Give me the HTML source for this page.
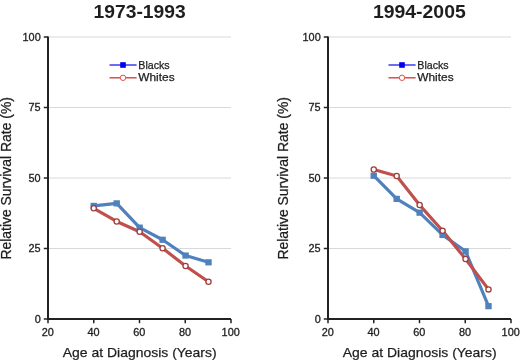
<!DOCTYPE html><html><head><meta charset="utf-8"><style>html,body{margin:0;padding:0;background:#fff;width:520px;height:360px;overflow:hidden}svg{display:block;will-change:transform}text{font-family:"Liberation Sans",sans-serif;fill:#1e1e1e}</style></head><body>
<svg width="520" height="360" viewBox="0 0 520 360">
<line x1="49.00" y1="248.50" x2="231.00" y2="248.50" stroke="#d9d9d9" stroke-width="1"/>
<line x1="49.00" y1="178.00" x2="231.00" y2="178.00" stroke="#d9d9d9" stroke-width="1"/>
<line x1="49.00" y1="107.50" x2="231.00" y2="107.50" stroke="#d9d9d9" stroke-width="1"/>
<line x1="49.00" y1="37.00" x2="231.00" y2="37.00" stroke="#d9d9d9" stroke-width="1"/>
<line x1="48.00" y1="36.50" x2="48.00" y2="320.00" stroke="#222" stroke-width="2"/>
<line x1="47.00" y1="319.00" x2="231.00" y2="319.00" stroke="#222" stroke-width="2"/>
<line x1="43.80" y1="319.00" x2="48.00" y2="319.00" stroke="#222" stroke-width="1.5"/>
<text x="40.70" y="322.85" font-size="10.9" text-anchor="end" stroke="#1e1e1e" stroke-width="0.3">0</text>
<line x1="43.80" y1="248.50" x2="48.00" y2="248.50" stroke="#222" stroke-width="1.5"/>
<text x="40.70" y="252.35" font-size="10.9" text-anchor="end" stroke="#1e1e1e" stroke-width="0.3">25</text>
<line x1="43.80" y1="178.00" x2="48.00" y2="178.00" stroke="#222" stroke-width="1.5"/>
<text x="40.70" y="181.85" font-size="10.9" text-anchor="end" stroke="#1e1e1e" stroke-width="0.3">50</text>
<line x1="43.80" y1="107.50" x2="48.00" y2="107.50" stroke="#222" stroke-width="1.5"/>
<text x="40.70" y="111.35" font-size="10.9" text-anchor="end" stroke="#1e1e1e" stroke-width="0.3">75</text>
<line x1="43.80" y1="37.00" x2="48.00" y2="37.00" stroke="#222" stroke-width="1.5"/>
<text x="40.70" y="40.85" font-size="10.9" text-anchor="end" stroke="#1e1e1e" stroke-width="0.3">100</text>
<line x1="48.00" y1="319.00" x2="48.00" y2="323.20" stroke="#222" stroke-width="1.5"/>
<text x="47.70" y="335.80" font-size="10.9" text-anchor="middle" stroke="#1e1e1e" stroke-width="0.3">20</text>
<line x1="93.75" y1="319.00" x2="93.75" y2="323.20" stroke="#222" stroke-width="1.5"/>
<text x="93.45" y="335.80" font-size="10.9" text-anchor="middle" stroke="#1e1e1e" stroke-width="0.3">40</text>
<line x1="139.50" y1="319.00" x2="139.50" y2="323.20" stroke="#222" stroke-width="1.5"/>
<text x="139.20" y="335.80" font-size="10.9" text-anchor="middle" stroke="#1e1e1e" stroke-width="0.3">60</text>
<line x1="185.25" y1="319.00" x2="185.25" y2="323.20" stroke="#222" stroke-width="1.5"/>
<text x="184.95" y="335.80" font-size="10.9" text-anchor="middle" stroke="#1e1e1e" stroke-width="0.3">80</text>
<line x1="231.00" y1="319.00" x2="231.00" y2="323.20" stroke="#222" stroke-width="1.5"/>
<text x="230.70" y="335.80" font-size="10.9" text-anchor="middle" stroke="#1e1e1e" stroke-width="0.3">100</text>
<text x="93.60" y="17.9" font-size="18.6" font-weight="bold" textLength="92.10" lengthAdjust="spacingAndGlyphs">1973-1993</text>
<text x="62.80" y="356.6" font-size="13.6" textLength="153.8" lengthAdjust="spacingAndGlyphs" stroke="#1e1e1e" stroke-width="0.25">Age at Diagnosis (Years)</text>
<text transform="translate(10.60,259.6) rotate(-90)" font-size="13.8" textLength="162.5" lengthAdjust="spacingAndGlyphs" stroke="#1e1e1e" stroke-width="0.25">Relative Survival Rate (%)</text>
<polyline points="93.75,205.92 116.70,203.38 139.65,227.63 162.60,239.76 185.55,255.55 208.50,262.32" fill="none" stroke="#4f81bd" stroke-width="3.2" stroke-linejoin="round"/>
<polyline points="93.75,208.31 116.70,221.43 139.65,231.72 162.60,248.22 185.55,265.98 208.50,281.78" fill="none" stroke="#c0504d" stroke-width="3.2" stroke-linejoin="round"/>
<rect x="90.55" y="202.82" width="6.4" height="6.2" fill="#4f81bd"/>
<rect x="113.50" y="200.28" width="6.4" height="6.2" fill="#4f81bd"/>
<rect x="136.45" y="224.53" width="6.4" height="6.2" fill="#4f81bd"/>
<rect x="159.40" y="236.66" width="6.4" height="6.2" fill="#4f81bd"/>
<rect x="182.35" y="252.45" width="6.4" height="6.2" fill="#4f81bd"/>
<rect x="205.30" y="259.22" width="6.4" height="6.2" fill="#4f81bd"/>
<circle cx="93.75" cy="208.31" r="2.6" fill="#fff" stroke="#a03c3a" stroke-width="1.3"/>
<circle cx="116.70" cy="221.43" r="2.6" fill="#fff" stroke="#a03c3a" stroke-width="1.3"/>
<circle cx="139.65" cy="231.72" r="2.6" fill="#fff" stroke="#a03c3a" stroke-width="1.3"/>
<circle cx="162.60" cy="248.22" r="2.6" fill="#fff" stroke="#a03c3a" stroke-width="1.3"/>
<circle cx="185.55" cy="265.98" r="2.6" fill="#fff" stroke="#a03c3a" stroke-width="1.3"/>
<circle cx="208.50" cy="281.78" r="2.6" fill="#fff" stroke="#a03c3a" stroke-width="1.3"/>
<line x1="109.50" y1="65" x2="136.60" y2="65" stroke="#3030e6" stroke-width="1.4"/>
<rect x="120.20" y="62.2" width="5.6" height="5.6" fill="#0000ee"/>
<line x1="109.50" y1="77.8" x2="136.60" y2="77.8" stroke="#d84040" stroke-width="1.4"/>
<circle cx="123.00" cy="77.8" r="2.7" fill="#fff" stroke="#e05050" stroke-width="1"/>
<text x="138.30" y="68.6" font-size="10.8" textLength="31.3" lengthAdjust="spacingAndGlyphs" stroke="#1e1e1e" stroke-width="0.25">Blacks</text>
<text x="138.30" y="81.2" font-size="10.8" textLength="36.3" lengthAdjust="spacingAndGlyphs" stroke="#1e1e1e" stroke-width="0.25">Whites</text>
<line x1="329.00" y1="248.50" x2="511.00" y2="248.50" stroke="#d9d9d9" stroke-width="1"/>
<line x1="329.00" y1="178.00" x2="511.00" y2="178.00" stroke="#d9d9d9" stroke-width="1"/>
<line x1="329.00" y1="107.50" x2="511.00" y2="107.50" stroke="#d9d9d9" stroke-width="1"/>
<line x1="329.00" y1="37.00" x2="511.00" y2="37.00" stroke="#d9d9d9" stroke-width="1"/>
<line x1="328.00" y1="36.50" x2="328.00" y2="320.00" stroke="#222" stroke-width="2"/>
<line x1="327.00" y1="319.00" x2="511.00" y2="319.00" stroke="#222" stroke-width="2"/>
<line x1="323.80" y1="319.00" x2="328.00" y2="319.00" stroke="#222" stroke-width="1.5"/>
<text x="320.70" y="322.85" font-size="10.9" text-anchor="end" stroke="#1e1e1e" stroke-width="0.3">0</text>
<line x1="323.80" y1="248.50" x2="328.00" y2="248.50" stroke="#222" stroke-width="1.5"/>
<text x="320.70" y="252.35" font-size="10.9" text-anchor="end" stroke="#1e1e1e" stroke-width="0.3">25</text>
<line x1="323.80" y1="178.00" x2="328.00" y2="178.00" stroke="#222" stroke-width="1.5"/>
<text x="320.70" y="181.85" font-size="10.9" text-anchor="end" stroke="#1e1e1e" stroke-width="0.3">50</text>
<line x1="323.80" y1="107.50" x2="328.00" y2="107.50" stroke="#222" stroke-width="1.5"/>
<text x="320.70" y="111.35" font-size="10.9" text-anchor="end" stroke="#1e1e1e" stroke-width="0.3">75</text>
<line x1="323.80" y1="37.00" x2="328.00" y2="37.00" stroke="#222" stroke-width="1.5"/>
<text x="320.70" y="40.85" font-size="10.9" text-anchor="end" stroke="#1e1e1e" stroke-width="0.3">100</text>
<line x1="328.00" y1="319.00" x2="328.00" y2="323.20" stroke="#222" stroke-width="1.5"/>
<text x="327.70" y="335.80" font-size="10.9" text-anchor="middle" stroke="#1e1e1e" stroke-width="0.3">20</text>
<line x1="373.75" y1="319.00" x2="373.75" y2="323.20" stroke="#222" stroke-width="1.5"/>
<text x="373.45" y="335.80" font-size="10.9" text-anchor="middle" stroke="#1e1e1e" stroke-width="0.3">40</text>
<line x1="419.50" y1="319.00" x2="419.50" y2="323.20" stroke="#222" stroke-width="1.5"/>
<text x="419.20" y="335.80" font-size="10.9" text-anchor="middle" stroke="#1e1e1e" stroke-width="0.3">60</text>
<line x1="465.25" y1="319.00" x2="465.25" y2="323.20" stroke="#222" stroke-width="1.5"/>
<text x="464.95" y="335.80" font-size="10.9" text-anchor="middle" stroke="#1e1e1e" stroke-width="0.3">80</text>
<line x1="511.00" y1="319.00" x2="511.00" y2="323.20" stroke="#222" stroke-width="1.5"/>
<text x="510.70" y="335.80" font-size="10.9" text-anchor="middle" stroke="#1e1e1e" stroke-width="0.3">100</text>
<text x="373.00" y="17.9" font-size="18.6" font-weight="bold" textLength="92.70" lengthAdjust="spacingAndGlyphs">1994-2005</text>
<text x="342.80" y="356.6" font-size="13.6" textLength="153.8" lengthAdjust="spacingAndGlyphs" stroke="#1e1e1e" stroke-width="0.25">Age at Diagnosis (Years)</text>
<text transform="translate(287.90,259.6) rotate(-90)" font-size="13.8" textLength="162.5" lengthAdjust="spacingAndGlyphs" stroke="#1e1e1e" stroke-width="0.25">Relative Survival Rate (%)</text>
<polyline points="373.75,175.74 396.70,198.87 419.65,212.69 442.60,234.96 465.55,251.32 488.50,306.17" fill="none" stroke="#4f81bd" stroke-width="3.2" stroke-linejoin="round"/>
<polyline points="373.75,169.54 396.70,176.03 419.65,205.07 442.60,230.73 465.55,258.93 488.50,289.39" fill="none" stroke="#c0504d" stroke-width="3.2" stroke-linejoin="round"/>
<rect x="370.55" y="172.64" width="6.4" height="6.2" fill="#4f81bd"/>
<rect x="393.50" y="195.77" width="6.4" height="6.2" fill="#4f81bd"/>
<rect x="416.45" y="209.59" width="6.4" height="6.2" fill="#4f81bd"/>
<rect x="439.40" y="231.86" width="6.4" height="6.2" fill="#4f81bd"/>
<rect x="462.35" y="248.22" width="6.4" height="6.2" fill="#4f81bd"/>
<rect x="485.30" y="303.07" width="6.4" height="6.2" fill="#4f81bd"/>
<circle cx="373.75" cy="169.54" r="2.6" fill="#fff" stroke="#a03c3a" stroke-width="1.3"/>
<circle cx="396.70" cy="176.03" r="2.6" fill="#fff" stroke="#a03c3a" stroke-width="1.3"/>
<circle cx="419.65" cy="205.07" r="2.6" fill="#fff" stroke="#a03c3a" stroke-width="1.3"/>
<circle cx="442.60" cy="230.73" r="2.6" fill="#fff" stroke="#a03c3a" stroke-width="1.3"/>
<circle cx="465.55" cy="258.93" r="2.6" fill="#fff" stroke="#a03c3a" stroke-width="1.3"/>
<circle cx="488.50" cy="289.39" r="2.6" fill="#fff" stroke="#a03c3a" stroke-width="1.3"/>
<line x1="388.50" y1="65" x2="415.60" y2="65" stroke="#3030e6" stroke-width="1.4"/>
<rect x="399.20" y="62.2" width="5.6" height="5.6" fill="#0000ee"/>
<line x1="388.50" y1="77.8" x2="415.60" y2="77.8" stroke="#d84040" stroke-width="1.4"/>
<circle cx="402.00" cy="77.8" r="2.7" fill="#fff" stroke="#e05050" stroke-width="1"/>
<text x="417.30" y="68.6" font-size="10.8" textLength="31.3" lengthAdjust="spacingAndGlyphs" stroke="#1e1e1e" stroke-width="0.25">Blacks</text>
<text x="417.30" y="81.2" font-size="10.8" textLength="36.3" lengthAdjust="spacingAndGlyphs" stroke="#1e1e1e" stroke-width="0.25">Whites</text>
</svg></body></html>
